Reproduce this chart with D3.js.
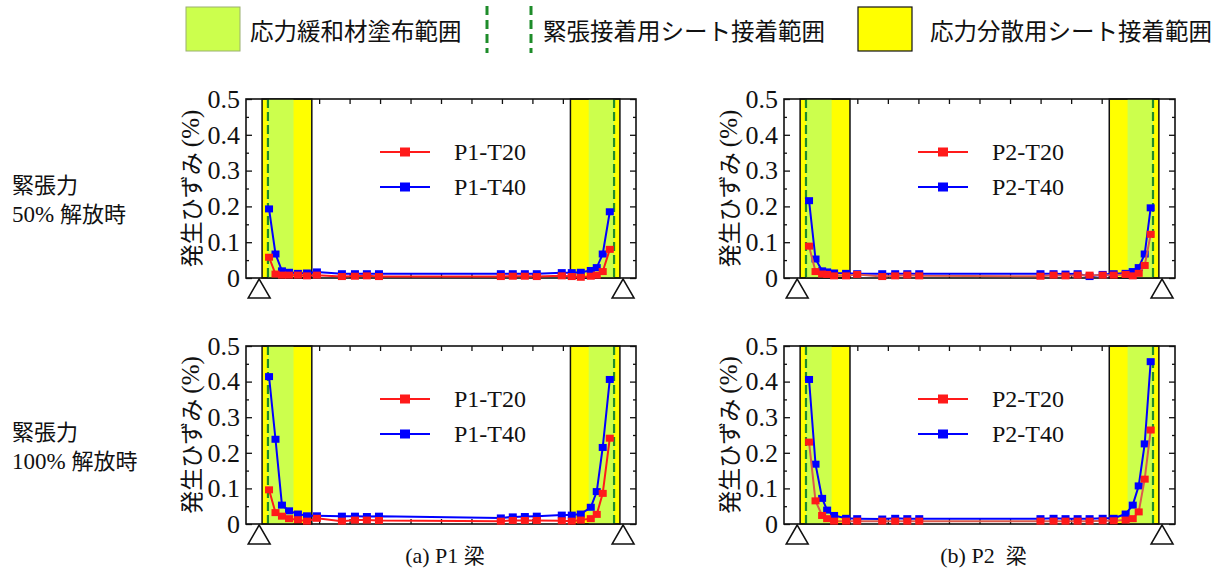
<!DOCTYPE html>
<html>
<head>
<meta charset="utf-8">
<script src="https://cdn.jsdelivr.net/npm/d3@7"></script>
<style>
  body { margin: 0; background: #fff; }
  svg { display: block; }
</style>
</head>
<body>
<svg id="chart" width="1226" height="575"></svg>
<script>
// gauge positions along the beam (mm)
const gaugeP1 = [89, 142, 195, 253, 326, 400, 482, 687, 794, 892, 991,
                 1991, 2089, 2188, 2286, 2491, 2573, 2647, 2729, 2778, 2827, 2885];
const gaugeP2 = [105, 158, 212, 253, 310, 408, 499, 704, 810, 909, 1007,
                 1999, 2106, 2204, 2303, 2401, 2508, 2598, 2696, 2754, 2803, 2852, 2901];

// strain (%) - 50% release
const p1T20_50 = [0.058, 0.011, 0.008, 0.008, 0.008, 0.006, 0.008, 0.004, 0.005, 0.006, 0.004,
                  0.004, 0.005, 0.005, 0.004, 0.006, 0.004, 0.002, 0.005, 0.008, 0.018, 0.080];
const p1T40_50 = [0.193, 0.067, 0.020, 0.016, 0.013, 0.014, 0.017, 0.012, 0.012, 0.012, 0.012,
                  0.012, 0.012, 0.012, 0.012, 0.015, 0.015, 0.016, 0.021, 0.029, 0.067, 0.185];
const p2T20_50 = [0.089, 0.018, 0.011, 0.010, 0.006, 0.006, 0.010, 0.004, 0.006, 0.008, 0.006,
                  0.005, 0.008, 0.006, 0.008, 0.008, 0.008, 0.008, 0.010, 0.006, 0.013, 0.035, 0.122];
const p2T40_50 = [0.216, 0.053, 0.020, 0.017, 0.014, 0.013, 0.012, 0.012, 0.012, 0.012, 0.012,
                  0.012, 0.012, 0.011, 0.012, 0.004, 0.010, 0.012, 0.013, 0.018, 0.029, 0.067, 0.196];

// strain (%) - 100% release
const p1T20_100 = [0.096, 0.032, 0.022, 0.015, 0.012, 0.008, 0.016, 0.008, 0.011, 0.011, 0.010,
                   0.008, 0.010, 0.010, 0.010, 0.009, 0.008, 0.011, 0.015, 0.027, 0.086, 0.241];
const p1T40_100 = [0.414, 0.238, 0.053, 0.037, 0.028, 0.023, 0.023, 0.022, 0.022, 0.021, 0.022,
                   0.017, 0.020, 0.021, 0.022, 0.025, 0.025, 0.028, 0.047, 0.091, 0.215, 0.406];
const p2T20_100 = [0.230, 0.065, 0.024, 0.015, 0.008, 0.008, 0.008, 0.008, 0.008, 0.008, 0.008,
                   0.008, 0.008, 0.008, 0.008, 0.008, 0.009, 0.009, 0.011, 0.015, 0.034, 0.126, 0.264];
const p2T40_100 = [0.406, 0.168, 0.072, 0.039, 0.024, 0.016, 0.015, 0.014, 0.016, 0.015, 0.015,
                   0.015, 0.016, 0.015, 0.015, 0.015, 0.016, 0.016, 0.028, 0.053, 0.107, 0.225, 0.456];

// zones along the beam (mm)
const yellowZones = [[32, 440], [2562, 2968]];
const greenZones = [[80, 290], [2712, 2920]];
const dashedLines = [80, 2920];
const supports = [8, 2994];

const xTicks = d3.range(500, 2501, 250);
const yMajor = [0, 0.1, 0.2, 0.3, 0.4, 0.5];
const yMinor = [0.05, 0.15, 0.25, 0.35, 0.45];

const legendItems = ["応力緩和材塗布範囲", "緊張接着用シート接着範囲", "応力分散用シート接着範囲"];
const rowLabels = [["緊張力", "50%", "解放時"], ["緊張力", "100%", "解放時"]];
const captions = [["(a) P1 ", "梁"], ["(b) P2  ", "梁"]];

const RED = "#ff1a1a", BLUE = "#0000ff", LGREEN = "#ccff4d", YEL = "#ffff00", DGREEN = "#1e8c2a";
const SERIF = '"Liberation Serif", "Times New Roman", serif';
const JP = '"Noto Sans CJK JP", sans-serif';

const svg = d3.select("#chart");

const cols = [{ x0: 246, x1: 636 }, { x0: 784, x1: 1175 }];
const rows = [{ y0: 99, y1: 278 }, { y0: 346, y1: 524 }];

const panels = [
    { col: 0, row: 0, gauge: gaugeP1, t20: p1T20_50, t40: p1T40_50, name: "P1", redLine: RED },
    { col: 1, row: 0, gauge: gaugeP2, t20: p2T20_50, t40: p2T40_50, name: "P2", redLine: "#dc5a4c" },
    { col: 0, row: 1, gauge: gaugeP1, t20: p1T20_100, t40: p1T40_100, name: "P1", redLine: RED },
    { col: 1, row: 1, gauge: gaugeP2, t20: p2T20_100, t40: p2T40_100, name: "P2", redLine: "#dc5a4c" }
];

panels.forEach(p => {
    const c = cols[p.col], r = rows[p.row];
    const x = d3.scaleLinear().domain([-100, 3100]).range([c.x0, c.x1]);
    const y = d3.scaleLinear().domain([0, 0.5]).range([r.y1, r.y0]);
    const g = svg.append("g");

    // yellow zones
    g.selectAll(".yz").data(yellowZones).enter().append("rect")
        .attr("x", d => x(d[0])).attr("width", d => x(d[1]) - x(d[0]))
        .attr("y", y(0.5)).attr("height", y(0) - y(0.5))
        .attr("fill", YEL).attr("stroke", "#111").attr("stroke-width", 1.5);
    // green zones
    g.selectAll(".gz").data(greenZones).enter().append("rect")
        .attr("x", d => x(d[0])).attr("width", d => x(d[1]) - x(d[0]))
        .attr("y", y(0.5)).attr("height", y(0) - y(0.5))
        .attr("fill", LGREEN);
    // dashed lines
    g.selectAll(".dl").data(dashedLines).enter().append("line")
        .attr("x1", d => x(d)).attr("x2", d => x(d))
        .attr("y1", y(0.5)).attr("y2", y(0))
        .attr("stroke", DGREEN).attr("stroke-width", 2.2).attr("stroke-dasharray", "9,4");

    // axes
    const fmt = d => d === 0 ? "0" : d.toFixed(1);
    const left = g.append("g").attr("transform", `translate(${c.x0},0)`)
        .call(d3.axisLeft(y).tickValues(yMajor).tickSize(-6).tickSizeOuter(0).tickPadding(6).tickFormat(fmt));
    left.selectAll("text").style("font-family", SERIF).style("font-size", "26px").attr("fill", "#111");
    g.append("g").attr("transform", `translate(${c.x0},0)`)
        .call(d3.axisLeft(y).tickValues(yMinor).tickSize(-3).tickSizeOuter(0).tickFormat(""));
    g.append("g").attr("transform", `translate(${c.x1},0)`)
        .call(d3.axisRight(y).tickValues(yMajor).tickSize(-6).tickSizeOuter(0).tickFormat(""));
    g.append("g").attr("transform", `translate(${c.x1},0)`)
        .call(d3.axisRight(y).tickValues(yMinor).tickSize(-3).tickSizeOuter(0).tickFormat(""));
    g.append("g").attr("transform", `translate(0,${r.y0})`)
        .call(d3.axisTop(x).tickValues(xTicks).tickSize(-5).tickSizeOuter(0).tickFormat(""));
    g.append("g").attr("transform", `translate(0,${r.y1})`)
        .call(d3.axisBottom(x).tickValues(xTicks).tickSize(-5).tickSizeOuter(0).tickFormat(""));
    g.selectAll(".domain").remove();
    g.selectAll(".tick line").attr("stroke", "#111").attr("stroke-width", 1.3);
    g.append("rect").attr("x", c.x0).attr("y", r.y0)
        .attr("width", c.x1 - c.x0).attr("height", r.y1 - r.y0)
        .attr("fill", "none").attr("stroke", "#111").attr("stroke-width", 1.6);

    // y label
    const yl = g.append("text")
        .attr("transform", `translate(${c.x0 - 56},${(r.y0 + r.y1) / 2}) rotate(-90)`)
        .attr("text-anchor", "middle").attr("dominant-baseline", "central")
        .style("font-size", "23px").attr("fill", "#111");
    yl.append("tspan").style("font-family", JP).text("発生ひずみ ");
    yl.append("tspan").style("font-family", SERIF).style("font-size", "25px").text("(%)");

    // series
    const series = [
        { vals: p.t40, color: BLUE, line: BLUE, label: p.name + "-T40" },
        { vals: p.t20, color: RED, line: p.redLine, label: p.name + "-T20" }
    ];
    const line = d3.line().x(d => x(d[0])).y(d => y(d[1]));
    series.forEach(s => {
        const pts = p.gauge.map((gx, i) => [gx, s.vals[i]]);
        g.append("path").datum(pts).attr("d", line)
            .attr("fill", "none").attr("stroke", s.line).attr("stroke-width", 2);
        g.selectAll(null).data(pts).enter().append("rect")
            .attr("x", d => x(d[0]) - 4).attr("y", d => y(d[1]) - 3.5)
            .attr("width", 8).attr("height", 7).attr("fill", s.color);
    });

    // legend
    const lg = [{ label: p.name + "-T20", color: RED, dy: 53 }, { label: p.name + "-T40", color: BLUE, dy: 88 }];
    lg.forEach(l => {
        const ly = r.y0 + l.dy;
        g.append("line").attr("x1", c.x0 + 134).attr("x2", c.x0 + 184)
            .attr("y1", ly).attr("y2", ly).attr("stroke", l.color).attr("stroke-width", 2);
        g.append("rect").attr("x", c.x0 + 154).attr("y", ly - 4.5)
            .attr("width", 10).attr("height", 9).attr("fill", l.color);
        g.append("text").attr("x", c.x0 + 208).attr("y", ly)
            .attr("dominant-baseline", "central").style("font-family", SERIF)
            .style("font-size", "24px").attr("fill", "#111")
            .text(l.label);
    });

    // supports
    g.selectAll(".sup").data(supports).enter().append("path")
        .attr("d", d => {
            const px = x(d), py = r.y1 + 1;
            return `M${px},${py} L${px - 11},${py + 19} L${px + 11},${py + 19} Z`;
        })
        .attr("fill", "#fff").attr("stroke", "#111").attr("stroke-width", 1.5);
});

// row labels
rowLabels.forEach((lab, i) => {
    const base = [193, 440][i];
    svg.append("text").attr("x", 12).attr("y", base)
        .style("font-family", JP).style("font-size", "22px").attr("fill", "#111").text(lab[0]);
    const t = svg.append("text").attr("x", 12).attr("y", base + 29)
        .style("font-size", "23px").attr("fill", "#111");
    t.append("tspan").style("font-family", SERIF).text(lab[1] + " ");
    t.append("tspan").style("font-family", JP).style("font-size", "22px").text(lab[2]);
});

// captions
captions.forEach((cap, i) => {
    const c = cols[i];
    const t = svg.append("text").attr("x", (c.x0 + c.x1) / 2 + 4).attr("y", 563)
        .attr("text-anchor", "middle").style("font-size", "22px").attr("fill", "#111");
    t.append("tspan").style("font-family", SERIF).style("white-space", "pre").text(cap[0]);
    t.append("tspan").style("font-family", JP).style("font-size", "21px").text(cap[1]);
});

// top legend
const legendTop = svg.append("g");
legendTop.append("rect").attr("x", 186).attr("y", 7).attr("width", 54).attr("height", 44)
    .attr("fill", LGREEN).attr("stroke", "#9ab070").attr("stroke-width", 1);
legendTop.append("text").attr("x", 250).attr("y", 30)
    .attr("dominant-baseline", "central").style("font-family", JP)
    .style("font-size", "23.5px").attr("fill", "#111").text(legendItems[0]);
[487, 531].forEach(lx => {
    legendTop.append("line").attr("x1", lx).attr("x2", lx).attr("y1", 6).attr("y2", 53)
        .attr("stroke", DGREEN).attr("stroke-width", 3).attr("stroke-dasharray", "9,5");
});
legendTop.append("text").attr("x", 543).attr("y", 30)
    .attr("dominant-baseline", "central").style("font-family", JP)
    .style("font-size", "23.5px").attr("fill", "#111").text(legendItems[1]);
legendTop.append("rect").attr("x", 858).attr("y", 7).attr("width", 54).attr("height", 44)
    .attr("fill", YEL).attr("stroke", "#111").attr("stroke-width", 1.2);
legendTop.append("text").attr("x", 930).attr("y", 30)
    .attr("dominant-baseline", "central").style("font-family", JP)
    .style("font-size", "23.5px").attr("fill", "#111").text(legendItems[2]);
</script>
</body>
</html>
